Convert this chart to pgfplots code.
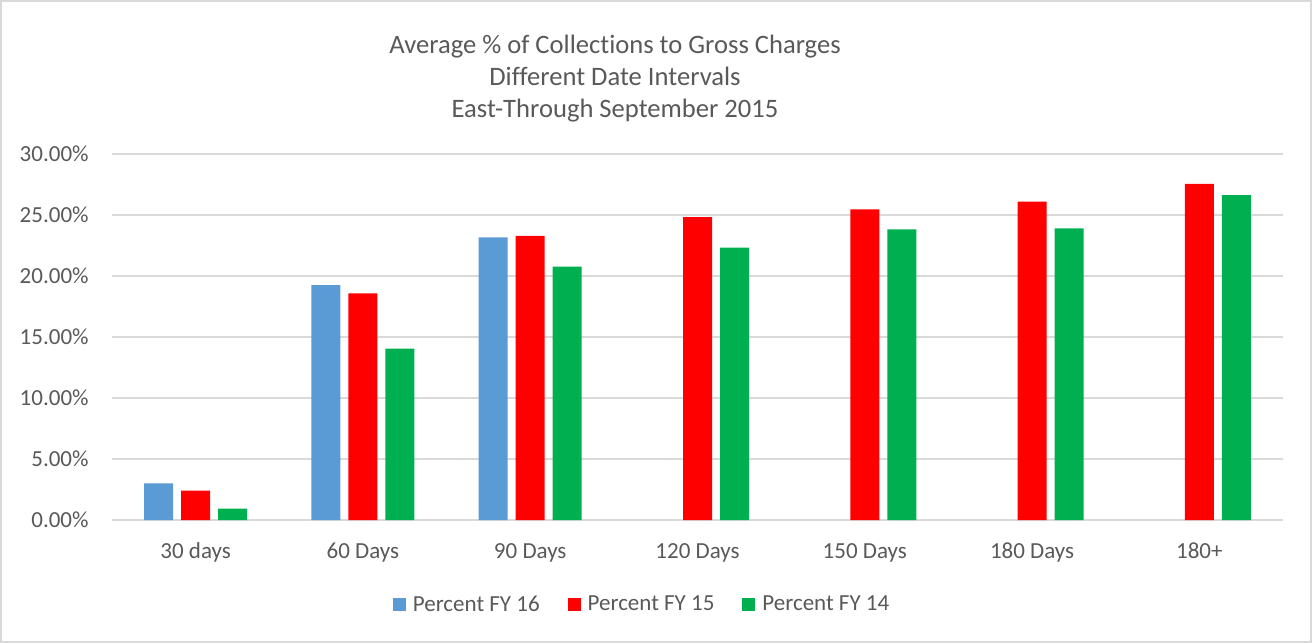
\documentclass[border=0pt]{standalone}
\usepackage{pgfplots}
\pgfplotsset{compat=1.18}
\usepackage{fontspec}
\setmainfont{Carlito}[Ligatures=NoCommon]
\definecolor{txt}{HTML}{595959}
\definecolor{gridc}{HTML}{D9D9D9}
\definecolor{cblue}{HTML}{5B9BD5}
\definecolor{cred}{HTML}{FF0000}
\definecolor{cgreen}{HTML}{00B050}
\begin{document}
\begin{tikzpicture}
\begin{axis}[
  at={(0pt,0pt)}, anchor=south west,
  scale only axis, width=585.5pt, height=183pt,
  xmin=-0.5, xmax=6.5, ymin=0, ymax=30,
  ytick={0,5,...,30},
  xtick={0,...,6},
  xticklabels={30 days,60 Days,90 Days,120 Days,150 Days,180 Days,180+},
  /pgf/number format/assume math mode=true,
  yticklabel={\pgfmathprintnumber[fixed,fixed zerofill,precision=2]{\tick}\%},
  ymajorgrids, grid style={draw=gridc, line width=0.75pt},
  axis line style={draw=none},
  major tick length=0pt,
  tick label style={font=\fontsize{11.5}{13}\selectfont, text=txt},
  xticklabel style={anchor=base, inner sep=0pt, yshift=-19pt},
  yticklabel style={anchor=east, inner sep=0pt, xshift=-11.5pt},
  ybar, bar width=14.5pt,
  legend columns=-1,
  legend style={at={(0.4535,-0.2318)}, anchor=center, draw=none, fill=none,
    font=\fontsize{11.5}{13}\selectfont, text=txt,
    /tikz/every even column/.append style={column sep=12pt}},
  legend image code/.code={\fill[#1] (0pt,-3.25pt) rectangle (6.5pt,3.25pt); \path (8pt,0pt);},
]
\addplot[fill=cblue, draw=none, bar shift=-18.5pt] coordinates {(0,3.01) (1,19.26) (2,23.17)};
\addlegendentry{Percent FY 16}
\addplot[fill=cred, draw=none, bar shift=0pt] coordinates {(0,2.41) (1,18.58) (2,23.28) (3,24.82) (4,25.47) (5,26.10) (6,27.55)};
\addlegendentry{Percent FY 15}
\addplot[fill=cgreen, draw=none, bar shift=18.5pt] coordinates {(0,0.93) (1,14.04) (2,20.77) (3,22.33) (4,23.83) (5,23.91) (6,26.62)};
\addlegendentry{Percent FY 14}
\end{axis}
\node[align=center, text=txt, font=\fontsize{13.3}{16}\selectfont] at (251.5pt,220.5pt)
  {Average \% of Collections to Gross Charges\\Different Date Intervals\\East-Through September 2015};
\pgfresetboundingbox
\draw[gridc, line width=0.75pt] (-55.6pt,-61.1pt) rectangle (599.6pt,259.6pt);
\path[use as bounding box] (-56pt,-61.5pt) rectangle (600pt,260pt);
\end{tikzpicture}
\end{document}
